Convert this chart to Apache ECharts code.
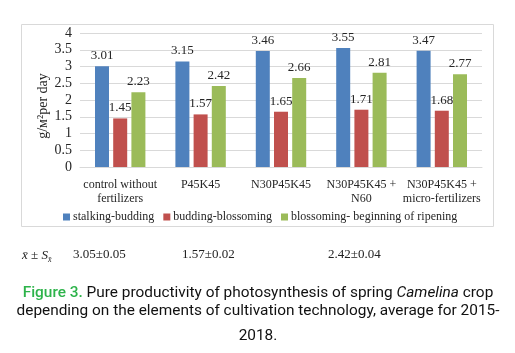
<!DOCTYPE html>
<html><head><meta charset="utf-8">
<script src="https://cdn.jsdelivr.net/npm/echarts@6/dist/echarts.min.js"></script>
<style>html,body{margin:0;padding:0;background:#fff}#c{width:515px;height:353px}</style>
</head><body><div id="c"></div>
<script>
const categories = ["control without\nfertilizers", "P45K45", "N30P45K45", "N30P45K45 +\nN60", "N30P45K45 +\nmicro-fertilizers"];
const seriesNames = ["stalking-budding", "budding-blossoming", "blossoming- beginning of ripening"];
const stalkingBudding = [3.01, 3.15, 3.46, 3.55, 3.47];
const buddingBlossoming = [1.45, 1.57, 1.65, 1.71, 1.68];
const blossomingRipening = [2.23, 2.42, 2.66, 2.81, 2.77];
const meanValues = ["3.05±0.05", "1.57±0.02", "2.42±0.04"];
const yTicks = [0, 0.5, 1, 1.5, 2, 2.5, 3, 3.5, 4];

const colors = ["#4f81bd", "#c0504d", "#9bbb59"];
const serif = "Liberation Serif";
const chart = echarts.init(document.getElementById('c'));
const mk = (name, data, i) => ({
  name, type: 'bar', data, barWidth: 14, barGap: '30%',
  itemStyle: { color: colors[i] },
  label: { show: true, position: 'top', distance: 4, fontFamily: serif, fontSize: 13, color: '#262626', formatter: p => p.value.toFixed(2) }
});
chart.setOption({
  animation: false,
  color: colors,
  grid: { left: 80, right: 33, top: 33, bottom: 186, containLabel: false },
  xAxis: {
    type: 'category', data: categories,
    axisLine: { lineStyle: { color: '#d9d9d9' } },
    axisTick: { show: false },
    axisLabel: { fontFamily: serif, fontSize: 12, color: '#262626', lineHeight: 14, margin: 11, interval: 0 }
  },
  yAxis: {
    type: 'value', min: 0, max: 4, interval: 0.5,
    name: 'g/м²per day', nameLocation: 'middle', nameGap: 30, nameRotate: 90, nameMoveOverlap: false,
    nameTextStyle: { fontFamily: serif, fontSize: 14, color: '#262626', padding: [0, 0, 0, -12] },
    axisLine: { show: false }, axisTick: { show: false },
    axisLabel: { fontFamily: serif, fontSize: 14, color: '#262626', margin: 8, formatter: v => String(v) },
    splitLine: { lineStyle: { color: '#d9d9d9' } }
  },
  legend: {
    data: seriesNames, top: 206, left: 58, itemWidth: 7, itemHeight: 7, itemGap: 9,
    icon: 'rect',
    textStyle: { fontFamily: serif, fontSize: 12, color: '#262626', padding: [0, 0, 0, -2] }
  },
  series: [mk(seriesNames[0], stalkingBudding, 0), mk(seriesNames[1], buddingBlossoming, 1), mk(seriesNames[2], blossomingRipening, 2)],
  graphic: [
    { type: 'rect', shape: { x: 21.5, y: 24.5, width: 472, height: 202 }, style: { fill: 'none', stroke: '#d9d9d9', lineWidth: 1 }, z: -1 },
    { type: 'text', x: 22, y: 248, style: { text: '{i|x̄} ± {i|S}{s|x̄}', rich: { i: { fontStyle: 'italic', fontFamily: serif, fontSize: 13 }, s: { fontStyle: 'italic', fontFamily: serif, fontSize: 8, padding: [8, 0, 0, 0] } }, fontFamily: serif, fontSize: 13, fill: '#222' } },
    { type: 'text', x: 73, y: 248, style: { text: meanValues[0], fontFamily: serif, fontSize: 13, fill: '#222' } },
    { type: 'text', x: 182, y: 248, style: { text: meanValues[1], fontFamily: serif, fontSize: 13, fill: '#222' } },
    { type: 'text', x: 328, y: 248, style: { text: meanValues[2], fontFamily: serif, fontSize: 13, fill: '#222' } },
    { type: 'text', x: 258, y: 293, style: { text: '{g|Figure 3.} Pure productivity of photosynthesis of spring {it|Camelina} crop', align: 'center', verticalAlign: 'middle', fontFamily: 'Roboto', fontSize: 15.4, fill: '#111', rich: { g: { fill: '#2db34a', fontFamily: 'Roboto', fontSize: 15.4, fontWeight: 500 }, it: { fontStyle: 'italic', fontFamily: 'Roboto', fontSize: 15.4, fill: '#111' } } } },
    { type: 'text', x: 258, y: 311, style: { text: 'depending on the elements of cultivation technology, average for 2015-', align: 'center', verticalAlign: 'middle', fontFamily: 'Roboto', fontSize: 15.4, fill: '#111' } },
    { type: 'text', x: 258, y: 336, style: { text: '2018.', align: 'center', verticalAlign: 'middle', fontFamily: 'Roboto', fontSize: 15.4, fill: '#111' } }
  ]
});
</script></body></html>
